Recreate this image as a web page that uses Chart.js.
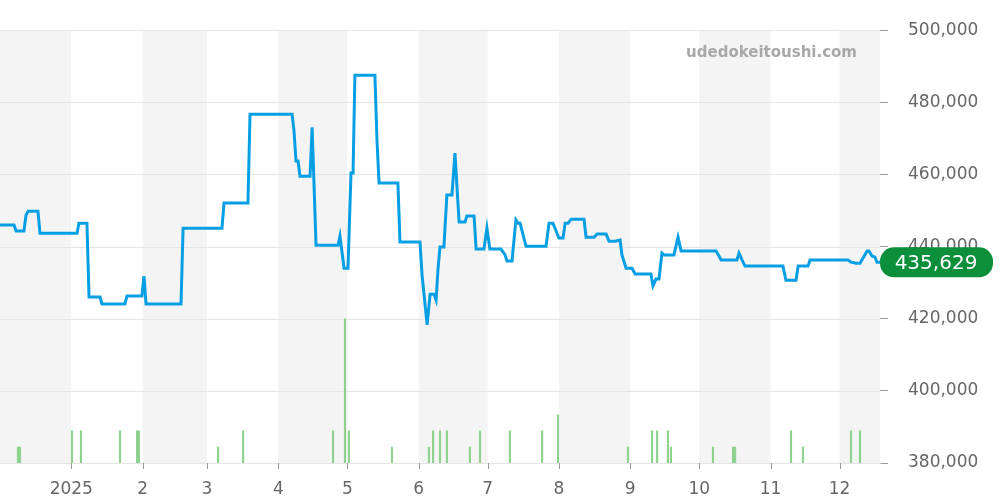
<!DOCTYPE html>
<html><head><meta charset="utf-8">
<script src="https://cdn.jsdelivr.net/npm/chart.js@4.4.1/dist/chart.umd.min.js"></script>
<style>html,body{margin:0;background:#fff}#wrap{width:1000px;height:500px}</style>
</head><body><div id="wrap"><canvas id="c"></canvas></div>
<script>
// days since 2024-12-01
const priceDays = [0,6.1,7,10.4,11.3,12.2,16.5,17.4,33.5,34.3,37.8,38.7,43.5,44.3,54.3,55.2,61.7,62.6,63.5,78.7,79.6,96.5,97.4,107.8,108.7,127,127.8,128.7,129.6,130.4,134.8,135.7,137.4,147,147.8,149.6,151.3,152.6,153.5,154.3,163,163.9,164.8,173,173.9,182.6,183.5,185.7,187,188.7,189.6,190.4,191.3,193,194.3,196.5,197.8,199.6,202.2,203,206.1,207,210.4,211.7,213,217.8,219.6,220.4,222.6,224.3,225.2,226.1,228.7,237.4,238.7,240.4,243,244.8,245.7,247,248.3,253.9,254.8,258.3,259.6,263.5,264.8,267.4,269.6,270.4,272.2,274.8,276.1,283,283.9,285.2,286.5,287.8,288.7,293,294.8,296.1,311.3,312.6,313.5,320.4,321.3,322.6,323.9,340.4,341.7,346.1,347,351.3,352.2,368.7,370,372.2,373.9,377,377.8,379.1,380.4,381.3,382.6];
const priceValues = [446000,446000,444300,444300,448700,449800,449800,443700,443700,446500,446500,426000,426000,424100,424100,426300,426300,431800,424100,424100,445100,445100,452100,452100,476700,476700,472300,463700,463700,459500,459500,473100,440400,440400,442900,434000,434000,460400,460400,487500,487500,469500,457600,457600,441300,441300,432100,418300,426800,426800,425200,433500,439900,439900,454300,454300,465900,446800,446800,448500,448500,439300,439300,445100,439300,439300,437700,436000,436000,447400,446500,446500,440100,440100,446500,446500,442400,442400,446500,446500,447600,447600,442600,442600,443500,443500,441500,441500,441800,437700,434000,434000,432400,432400,429100,431000,431000,438200,437700,437700,442600,438800,438800,437400,436300,436300,438200,436300,434600,434600,430700,430700,434600,434600,436300,436300,435700,435400,435400,438800,438800,437400,437100,435629,435629];
const volDays = [7.8,8.7,31.3,35.2,52.2,59.6,60.4,94.8,105.7,144.8,150,151.7,170.4,186.5,188.3,191.3,194.3,204.3,208.7,221.7,235.7,242.6,273,283.5,285.7,290.4,291.7,310,318.7,319.6,343.9,349.1,370,373.9];
const volValues = [1,1,2,2,2,2,2,1,2,2,9,2,1,1,2,2,2,1,2,2,2,3,1,2,2,2,1,1,1,1,2,1,2,2];
const monthStarts = [0,31,62,90,121,151,182,212,243,274,304,335,365];
const monthLabels = ["","2025","2","3","4","5","6","7","8","9","10","11","12"];
const lastPrice = "435,629";

const bands = {
  id: "bands",
  beforeDatasetsDraw(chart){
    const {ctx, chartArea:a, scales:{x}} = chart;
    ctx.save();
    ctx.fillStyle = "#f4f4f4";
    for(let i=0;i<monthStarts.length;i+=2){
      const l = Math.max(a.left, x.getPixelForValue(monthStarts[i]));
      const r = Math.min(a.right, x.getPixelForValue(monthStarts[i+1] ?? 400));
      if(r>l) ctx.fillRect(l, a.top, r-l, a.bottom-a.top);
    }
    const y = chart.scales.y;
    ctx.strokeStyle = "#e4e4e4"; ctx.lineWidth = 1;
    y.ticks.forEach(t => {
      const py = Math.round(y.getPixelForValue(t.value))+0.5;
      ctx.beginPath(); ctx.moveTo(a.left,py); ctx.lineTo(a.right,py); ctx.stroke();
    });
    // x tick marks
    ctx.strokeStyle = "#999";
    monthStarts.slice(1).forEach(m => {
      const px = Math.round(x.getPixelForValue(m))+0.5;
      ctx.beginPath(); ctx.moveTo(px,a.bottom); ctx.lineTo(px,a.bottom+6); ctx.stroke();
    });
    ctx.restore();
  },
  afterDraw(chart){
    const {ctx, chartArea:a, scales:{y}} = chart;
    ctx.save();
    ctx.font = "bold 15px 'DejaVu Sans'";
    ctx.fillStyle = "#a8a8a8"; ctx.textAlign = "right"; ctx.textBaseline = "middle";
    ctx.fillText("udedokeitoushi.com", 857, 53);
    const py = y.getPixelForValue(435629);
    ctx.fillStyle = "#0b8f3a";
    ctx.beginPath(); ctx.roundRect(a.right, py-15, 113, 30, 14); ctx.fill();
    ctx.fillStyle = "#fff"; ctx.font = "20px 'DejaVu Sans'"; ctx.textAlign = "center";
    ctx.fillText(lastPrice, a.right+56, py+1);
    ctx.restore();
  }
};

new Chart(document.getElementById("c"), {
  data: {
    datasets: [
      { type:"line", data: priceDays.map((d,i)=>({x:d,y:priceValues[i]})), borderColor:"#069fe3", borderWidth:3, pointRadius:0, tension:0, yAxisID:"y", order:0 },
      { type:"bar", data: volDays.map((d,i)=>({x:d,y:volValues[i]})), backgroundColor:"#8fd28f", barThickness:1.5, yAxisID:"v", order:1 }
    ]
  },
  options: {
    responsive:true, maintainAspectRatio:false, animation:false,
    layout:{ padding:{ top:30, left:0, right:0, bottom:0 } },
    plugins:{ legend:{display:false}, tooltip:{enabled:false} },
    scales:{
      x:{ type:"linear", min:0, max:382.6, offset:false,
        afterBuildTicks(s){ s.ticks = monthStarts.slice(1).map(v=>({value:v})); },
        ticks:{ color:"#666", font:{family:"DejaVu Sans", size:17}, autoSkip:false, maxRotation:0, padding:8,
          callback:(v)=> monthLabels[monthStarts.indexOf(v)] },
        grid:{ display:false },
        border:{ color:"#ccc" },
        afterFit(s){ s.height = 37; } },
      y:{ position:"right", min:380000, max:500000,
        afterBuildTicks(s){ s.ticks = [380000,400000,420000,440000,460000,480000,500000].map(v=>({value:v})); },
        ticks:{ color:"#666", font:{family:"DejaVu Sans", size:17}, padding:20, callback:v=>v.toLocaleString("en-US") },
        grid:{ drawOnChartArea:false, tickLength:8, color:"#999" },
        border:{ display:false },
        afterFit(s){ s.width = 120; } },
      v:{ display:false, min:0, max:27 }
    }
  },
  plugins:[bands]
});
</script></body></html>
